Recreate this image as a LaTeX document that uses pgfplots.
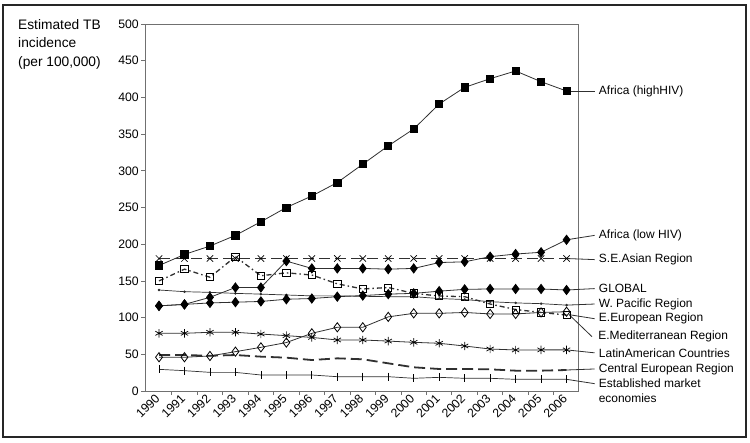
\documentclass[border=0pt]{standalone}
\usepackage{fontspec}
\setmainfont{Liberation Sans}
\usepackage{pgfplots}
\pgfplotsset{compat=1.18}
\definecolor{ax}{HTML}{707070}
\definecolor{ln}{HTML}{303030}
\begin{document}
\begin{tikzpicture}
\path[use as bounding box] (0,0) rectangle (750bp,443bp);
\draw[line width=1.6bp, black!85] (3bp,6bp) rectangle (746bp,438bp);
\node[anchor=north west, align=left, font=\fontsize{13.8}{18.5}\selectfont, inner sep=0pt] at (18bp,424bp) {Estimated TB\\incidence\\(per 100,000)};
\begin{axis}[
  at={(145bp,52bp)}, anchor=south west,
  scale only axis, width=433bp, height=367bp,
  xmin=1989.45, xmax=2006.45, ymin=0, ymax=500,
  ytick={0,50,...,500},
  xtick={1990,...,2006},
  minor xtick={1990.5,1991.5,...,2005.5},
  major x tick style={draw=none},
  tick align=outside,
  tick pos=left,
  clip=false,
  axis line style={ax, line width=1bp},
  tick style={ax, line width=0.8bp},
  major tick length=4bp, minor tick length=4bp,
  ticklabel style={font=\fontsize{12.3}{14}\selectfont},
  /pgf/number format/assume math mode=true,
  /pgf/number format/1000 sep={},
  xticklabel style={rotate=45, anchor=east, inner sep=2bp},
  yticklabel style={inner sep=2bp},
  every axis plot/.append style={line width=0.8bp},
]
% Africa (high HIV)
\addplot[ln, mark=square*, mark size=3.6bp, mark options={solid, fill=black, draw=black}] coordinates {
(1990,171)(1991,186)(1992,197.5)(1993,212)(1994,230.6)(1995,250)(1996,265.7)(1997,284)(1998,309)(1999,334)(2000,357)(2001,391)(2002,413.7)(2003,425.5)(2004,436)(2005,421.4)(2006,408.7)};
% S.E. Asian
\addplot[ln, dash pattern=on 11bp off 5bp, mark=x, mark size=4.5bp, mark options={solid, draw=black, line width=0.7bp}] coordinates {
(1990,180.5)(1991,180.5)(1992,180.5)(1993,180.5)(1994,180.5)(1995,180.5)(1996,180.5)(1997,180.5)(1998,180.5)(1999,180.5)(2000,180.5)(2001,180.5)(2002,180.5)(2003,180.5)(2004,180.5)(2005,180.5)(2006,180.5)};
% E. European
\addplot[ln, line width=1.3bp, dash pattern=on 5bp off 3bp on 1.5bp off 3bp, mark=square, mark size=3.6bp, mark options={solid, fill=white, draw=black, line width=0.8bp}] coordinates {
(1990,150)(1991,166)(1992,155)(1993,183)(1994,157)(1995,161)(1996,158)(1997,146)(1998,139)(1999,141)(2000,133)(2001,129.4)(2002,128.5)(2003,118.5)(2004,111)(2005,107)(2006,103.5)};
% W. Pacific
\addplot[ln, line width=0.7bp, mark=*, mark size=0.9bp, mark options={solid, fill=black}] coordinates {
(1990,137.6)(1991,135.3)(1992,134.4)(1993,133)(1994,132)(1995,130.8)(1996,129.6)(1997,129.6)(1998,129)(1999,128.5)(2000,128.5)(2001,126)(2002,124.6)(2003,121.7)(2004,120)(2005,119)(2006,117)};
% Africa (low HIV)
\addplot[ln, mark=diamond*, mark size=4.6bp, mark options={solid, fill=black, draw=black}] coordinates {
(1990,116)(1991,118)(1992,127.6)(1993,141)(1994,141)(1995,177)(1996,167)(1997,167)(1998,167)(1999,166)(2000,167)(2001,175)(2002,176)(2003,183)(2004,186.6)(2005,189)(2006,206)};
% GLOBAL
\addplot[ln, mark=diamond*, mark size=4.6bp, mark options={solid, fill=black, draw=black}] coordinates {
(1990,116)(1991,118)(1992,120)(1993,121)(1994,122)(1995,125)(1996,126)(1997,128.5)(1998,130)(1999,132)(2000,133)(2001,136)(2002,138.5)(2003,139)(2004,139)(2005,139)(2006,137.6)};
% E. Mediterranean
\addplot[ln, mark=diamond, mark size=4.6bp, mark options={solid, fill=white, draw=black, line width=0.8bp}] coordinates {
(1990,46)(1991,46)(1992,47.7)(1993,53.6)(1994,59.5)(1995,66)(1996,78.6)(1997,86.8)(1998,86.8)(1999,101)(2000,105.8)(2001,105.8)(2002,107)(2003,105)(2004,105)(2005,107)(2006,108)};
% Latin American
\addplot[ln, mark=asterisk, mark size=4.2bp, mark options={solid, draw=black, line width=0.7bp}] coordinates {
(1990,78.6)(1991,78.6)(1992,80)(1993,80)(1994,77.6)(1995,75.4)(1996,73)(1997,69.5)(1998,69.5)(1999,68)(2000,66.3)(2001,65)(2002,61.3)(2003,57.2)(2004,55.9)(2005,56)(2006,56)};
% Central European
\addplot[ln, line width=1.8bp, dash pattern=on 11bp off 5bp, mark=none] coordinates {
(1990,49)(1991,49)(1992,48)(1993,49)(1994,46.8)(1995,45.4)(1996,42.2)(1997,44.5)(1998,43.2)(1999,37.7)(2000,32.3)(2001,30)(2002,30)(2003,29.5)(2004,27.7)(2005,27.7)(2006,28.6)};
% Established market economies
\addplot[ln, line width=0.7bp, mark=|, mark size=4bp, mark options={solid, draw=black, line width=0.7bp}] coordinates {
(1990,29.5)(1991,27.7)(1992,25.4)(1993,25.4)(1994,21.8)(1995,21.8)(1996,21.8)(1997,19.5)(1998,19.5)(1999,19.5)(2000,17.3)(2001,18.6)(2002,17.3)(2003,17.3)(2004,15.9)(2005,15.9)(2006,15.9)};
% leader lines and labels
\tikzset{lab/.style={anchor=west, inner sep=0pt, xshift=4bp, font=\fontsize{12}{14}\selectfont, text=black}}
\draw[ln, line width=0.8bp] (axis cs:2006,408.7) -- (axis cs:2007.1,408.7) node[lab] {Africa (highHIV)};
\draw[ln, line width=0.8bp] (axis cs:2006,206) -- (axis cs:2007.1,212) node[lab] {Africa (low HIV)};
\draw[ln, line width=0.8bp] (axis cs:2006,180.5) -- (axis cs:2007.1,179) node[lab] {S.E.Asian Region};
\draw[ln, line width=0.8bp] (axis cs:2006,137.6) -- (axis cs:2007.1,139.5) node[lab] {GLOBAL};
\draw[ln, line width=0.8bp] (axis cs:2006,117) -- (axis cs:2007.1,118.5) node[lab] {W. Pacific Region};
\draw[ln, line width=0.8bp] (axis cs:2006.1,104) -- (axis cs:2007.1,98.5) node[lab] {E.European Region};
\draw[ln, line width=0.8bp] (axis cs:2006.1,104) -- (axis cs:2007.0,74) node[lab, xshift=2bp] {E.Mediterranean Region};
\draw[ln, line width=0.8bp] (axis cs:2006,56) -- (axis cs:2007.1,52) node[lab] {LatinAmerican Countries};
\draw[ln, line width=0.8bp] (axis cs:2006,28.6) -- (axis cs:2007.1,30) node[lab] {Central European Region};
\draw[ln, line width=0.8bp] (axis cs:2006,15.9) -- (axis cs:2007.1,10) node[lab] {Established market};
\node[lab, xshift=0bp] at (axis cs:2007.1,-10.5) {economies};
\end{axis}
\end{tikzpicture}
\end{document}
